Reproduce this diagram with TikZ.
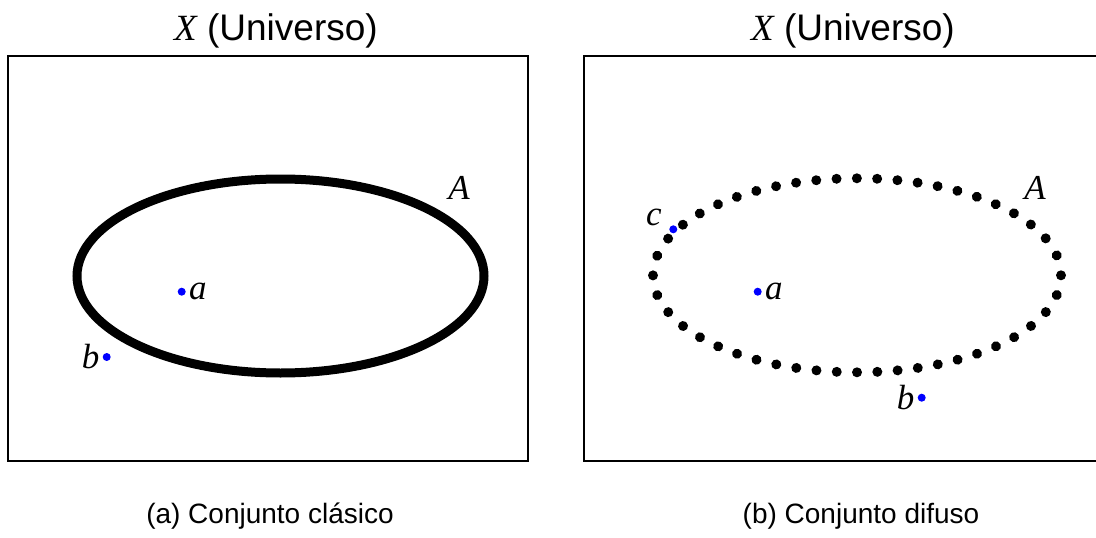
\documentclass[tikz,border=0pt]{standalone}
\usepackage{fontspec}
\setmainfont{Liberation Sans}
\newfontfamily\timesfont{Liberation Serif}
\usetikzlibrary{positioning, decorations.markings}

\begin{document}
\begin{tikzpicture}[x=1pt, y=-1pt,
        universe/.style={draw=black, line width=2pt},
        crisp/.style={draw=black, line width=9pt},
        fuzzy/.style={postaction={decorate}, decoration={markings,
            mark=between positions 0 and 0.99 step 1/48 with {\fill[black] (0,0) circle (5pt);}}},
        point/.style={circle, fill=blue, inner sep=0pt, minimum size=8pt},
        elem/.style={font=\fontsize{35}{40}\selectfont\timesfont\itshape, inner sep=1pt},
        title/.style={font=\fontsize{37}{44}\selectfont, anchor=base},
        caption/.style={font=\fontsize{28}{33}\selectfont, anchor=base}
    ]
    \useasboundingbox (0,0) rectangle (1096,538);
    \clip (0,0) rectangle (1096,538);

    % Left panel: classic set
    \node[title] (titleA) at (276,40) {{\timesfont\itshape X} (Universo)};
    \draw[universe] (7.5,56) rectangle (528,461);
    \draw[crisp] (280.5,276) ellipse [x radius=203.5, y radius=97];
    \node[elem] (setA) at (459,188) {A};

    \node[point] (ptA) at (181.7,291.7) {};
    \node[elem, right=2pt of ptA] (lblA) {a};
    \node[point] (ptB) at (106.7,357) {};
    \node[elem, left=2pt of ptB] (lblB) {b};

    \node[caption] (capA) at (270,523) {(a) Conjunto clásico};

    % Right panel: fuzzy set
    \node[title] (titleB) at (853,40) {{\timesfont\itshape X} (Universo)};
    \draw[universe] (583.5,56) rectangle (1104,461);
    \path[fuzzy] (857,275.3) ellipse [x radius=204, y radius=97];
    \node[elem] (setB) at (1035,188) {A};

    \node[point] (ptA2) at (757.7,291.7) {};
    \node[elem, right=2pt of ptA2] (lblA2) {a};
    \node[point] (ptB2) at (921.7,397.7) {};
    \node[elem, left=2pt of ptB2] (lblB2) {b};
    \node[point] (ptC2) at (673.3,229.3) {};
    \node[elem] (lblC2) at (654,217) {c};

    \node[caption] (capB) at (861,523) {(b) Conjunto difuso};

\end{tikzpicture}
\end{document}
